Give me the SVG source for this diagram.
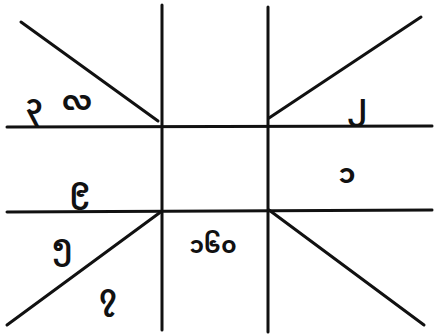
<svg xmlns="http://www.w3.org/2000/svg" width="435" height="335" viewBox="0 0 435 335">
<style>
.ln{stroke:#111;stroke-width:3;stroke-linecap:round;fill:none}
.t{font-family:"Noto Sans Myanmar","Padauk","Myanmar Text","Noto Sans",sans-serif;fill:#111;font-size:27px;font-weight:bold;text-anchor:middle}
.s{font-size:23px}
</style>
<rect width="435" height="335" fill="#fff"/>
<g id="connectors">
<line class="ln" x1="162" y1="5" x2="162" y2="330"/>
<line class="ln" x1="268" y1="7" x2="268" y2="332"/>
<line class="ln" x1="7" y1="127" x2="432" y2="126"/>
<line class="ln" x1="7" y1="212" x2="432" y2="210"/>
<line class="ln" x1="21" y1="22" x2="158" y2="121"/>
<line class="ln" x1="269" y1="118" x2="421" y2="17"/>
<line class="ln" x1="162" y1="211" x2="7" y2="325"/>
<line class="ln" x1="269" y1="210" x2="424" y2="325"/>
</g>
<g id="n3"><text class="t" x="34" y="114">၃</text></g>
<g id="nla"><text class="t" x="77" y="110">လ</text></g>
<g id="n2"><text class="t" x="357" y="114">၂</text></g>
<g id="n1"><text class="t" x="347" y="183">၁</text></g>
<g id="n9"><text class="t" x="80" y="197">၉</text></g>
<g id="n5"><text class="t" x="62" y="254">၅</text></g>
<g id="n7"><text class="t" x="108" y="304">၇</text></g>
<g id="n160"><text class="t s" x="213" y="253">၁၆၀</text></g>
</svg>
